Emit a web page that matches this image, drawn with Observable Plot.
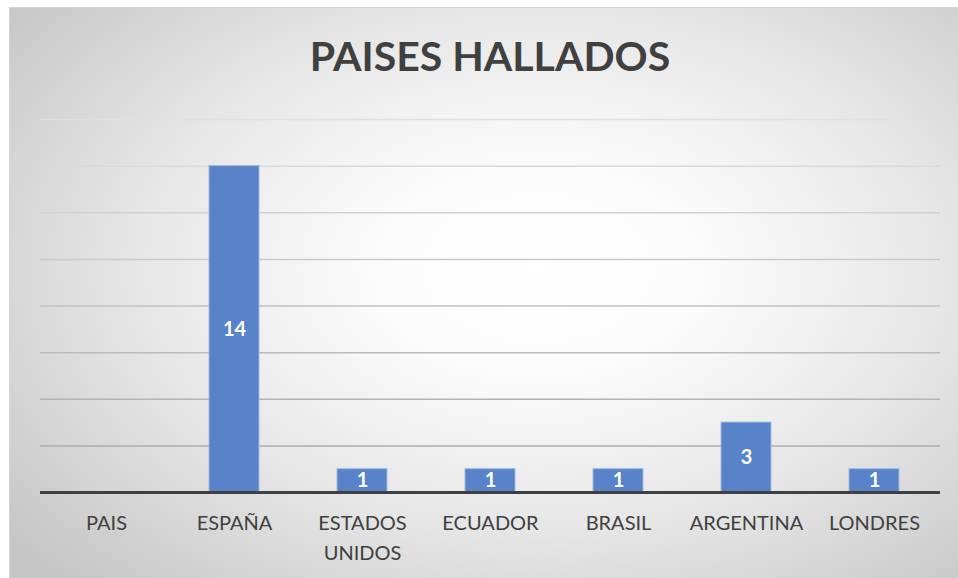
<!DOCTYPE html>
<html>
<head>
<meta charset="utf-8">
<script src="https://cdn.jsdelivr.net/npm/d3@7"></script>
<script src="https://cdn.jsdelivr.net/npm/@observablehq/plot@0.6"></script>
<style>
  html, body { margin: 0; padding: 0; background: #ffffff; }
  body { width: 958px; height: 578px; position: relative; overflow: hidden; font-family: Lato, "Open Sans", sans-serif; }
  #frame {
    position: absolute; left: 9px; top: 7px; width: 960px; height: 580px;
    border-top: 1px solid #d4d4d4; border-left: 1px solid #d4d4d4;
    background: radial-gradient(ellipse 70% 75% at 55% 45%, #ffffff 0%, #fbfbfb 25%, #e6e6e6 60%, #c6c6c6 100%);
  }
  #title {
    position: absolute; left: 490px; top: 32px; transform: translateX(-50%);
    font-family: Lato, sans-serif; font-weight: 700; font-size: 41px; line-height: 48px;
    color: #404040; white-space: nowrap;
  }
  #chart { position: absolute; left: 0; top: 100px; }
</style>
</head>
<body>
<div id="frame"></div>
<div id="title">PAISES HALLADOS</div>
<div id="chart"></div>
<script>
const categories = ["PAIS", "ESPAÑA", "ESTADOS UNIDOS", "ECUADOR", "BRASIL", "ARGENTINA", "LONDRES"];
const values = [0, 14, 1, 1, 1, 3, 1];
const tickLabels = ["PAIS", "ESPAÑA", "ESTADOS\nUNIDOS", "ECUADOR", "BRASIL", "ARGENTINA", "LONDRES"];
const gridValues = [2, 4, 6, 8, 10, 12, 14, 16];

const data = categories.map((c, i) => ({country: c, value: values[i], label: tickLabels[i]}));
const labelOf = new Map(data.map(d => [d.country, d.label]));
const gridColor = d3.interpolateRgb("#a4a4a4", "#e0e0e0");

const chart = Plot.plot({
  width: 958,
  height: 478,
  marginTop: 19,
  marginBottom: 86,
  marginLeft: 40,
  marginRight: 18,
  style: {background: "transparent", fontFamily: "Lato, 'Open Sans', sans-serif", overflow: "visible"},
  x: {domain: categories, paddingInner: 0.61, paddingOuter: 0.305, axis: null, label: null},
  y: {domain: [0, 16], axis: null},
  marks: [
    Plot.ruleY(gridValues, {stroke: d => gridColor(d / 16), strokeWidth: 1.5}),
    Plot.barY(data, {x: "country", y: "value", fill: "#5983c9", stroke: "#9fb9e4", strokeWidth: 1}),
    Plot.ruleY([0], {stroke: "#404040", strokeWidth: 3}),
    Plot.text(data.filter(d => d.value > 0), {
      x: "country", y: d => d.value / 2, text: d => String(d.value),
      fill: "#ffffff", fontWeight: "bold", fontSize: 20
    }),
    Plot.axisX({
      tickSize: 0, tickPadding: 16, fontSize: 20, fill: "#404040", label: null,
      lineHeight: 1.5, tickFormat: d => labelOf.get(d)
    })
  ]
});
document.getElementById("chart").appendChild(chart);
</script>
</body>
</html>
